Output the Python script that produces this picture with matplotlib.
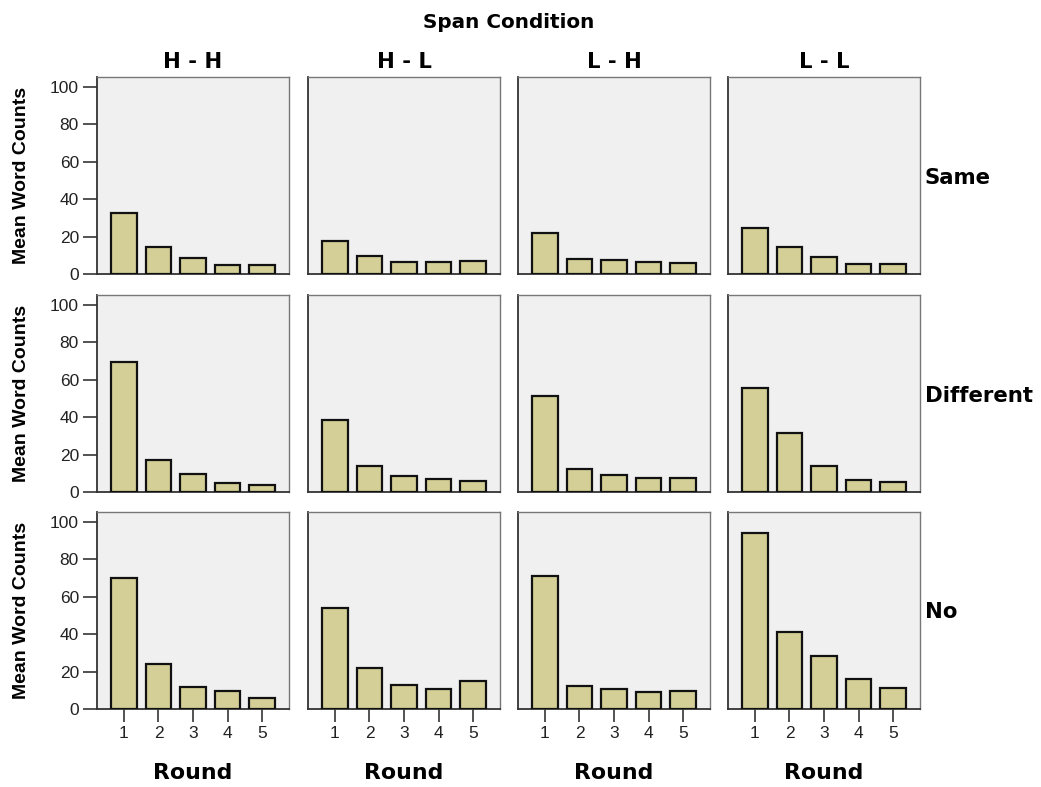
import matplotlib
matplotlib.use("Agg")
import matplotlib.pyplot as plt

# data (mean word counts per round)
rounds = [1, 2, 3, 4, 5]
span_conditions = ["H - H", "H - L", "L - H", "L - L"]
row_labels = ["Same", "Different", "No"]

same_hh = [32.4, 14.4, 8.7, 4.8, 4.8]
same_hl = [17.5, 9.8, 6.4, 6.4, 6.8]
same_lh = [21.9, 8.2, 7.5, 6.4, 5.7]
same_ll = [24.5, 14.6, 9.2, 5.6, 5.4]

diff_hh = [69.5, 17.0, 9.6, 4.8, 3.8]
diff_hl = [38.3, 13.7, 8.6, 7.1, 5.9]
diff_lh = [51.2, 12.5, 9.3, 7.5, 7.7]
diff_ll = [55.4, 31.6, 13.7, 6.6, 5.3]

no_hh = [70.2, 23.9, 11.6, 9.4, 6.1]
no_hl = [54.2, 21.7, 12.8, 10.7, 15.2]
no_lh = [71.1, 12.3, 10.5, 8.9, 9.6]
no_ll = [94.1, 41.4, 28.5, 16.2, 11.4]

grid = [
    [same_hh, same_hl, same_lh, same_ll],
    [diff_hh, diff_hl, diff_lh, diff_ll],
    [no_hh, no_hl, no_lh, no_ll],
]

W, H = 1041, 787
fig = plt.figure(figsize=(W / 100, H / 100), dpi=100)
fig.patch.set_facecolor("white")

TICKFONT = ["Liberation Sans", "DejaVu Sans"]
HEADFONT = ["DejaVu Sans"]
plt.rcParams["font.family"] = TICKFONT


def px(x, y):
    # pixel position (from top-left) -> figure fraction
    return x / W, 1 - y / H


col_left = [97, 308, 518, 728]
row_top = [77, 295, 512]
pw, ph = 192, 197

for r in range(3):
    for c in range(4):
        x0 = col_left[c]
        y0 = row_top[r]
        ax = fig.add_axes([x0 / W, 1 - (y0 + ph) / H, pw / W, ph / H])
        ax.set_facecolor("#f0f0f0")
        ax.bar(rounds, grid[r][c], width=0.75, color="#d3cf96",
               edgecolor="#111111", linewidth=1.6, zorder=3)
        ax.set_xlim(0.22, 5.78)
        ax.set_ylim(0, 105.3)
        for s in ["top", "right"]:
            ax.spines[s].set_color("#777777")
            ax.spines[s].set_linewidth(1.0)
        for s in ["left", "bottom"]:
            ax.spines[s].set_color("#333333")
            ax.spines[s].set_linewidth(1.3)

        if c == 0:
            ax.set_yticks([0, 20, 40, 60, 80, 100])
            ax.tick_params(axis="y", length=10, width=1.3, color="#444444",
                           labelsize=12.5, labelcolor="#222222", pad=3)
            fig.text(*px(22, y0 + ph / 2), "Mean Word Counts", rotation=90,
                     fontsize=14, fontweight="bold", ha="center", va="center")
        else:
            ax.set_yticks([])

        if r == 2:
            ax.set_xticks(rounds)
            ax.tick_params(axis="x", length=9, width=1.3, color="#444444",
                           labelsize=12.5, labelcolor="#222222", pad=3)
            fig.text(*px(x0 + pw / 2, 779), "Round", family=HEADFONT,
                     fontsize=15.8, fontweight="bold", ha="center", va="baseline")
        else:
            ax.set_xticks([])

        if r == 0:
            fig.text(*px(x0 + pw / 2, 68), span_conditions[c], family=HEADFONT,
                     fontsize=15.2, fontweight="bold", ha="center", va="baseline")

        if c == 3:
            fig.text(*px(925, y0 + ph / 2 + 8), row_labels[r], family=HEADFONT,
                     fontsize=15.3, fontweight="bold", ha="left", va="baseline")

fig.text(*px(509, 28), "Span Condition", family=HEADFONT, fontsize=14.4,
         fontweight="bold", ha="center", va="baseline")

fig.savefig("out.png", dpi=100)
